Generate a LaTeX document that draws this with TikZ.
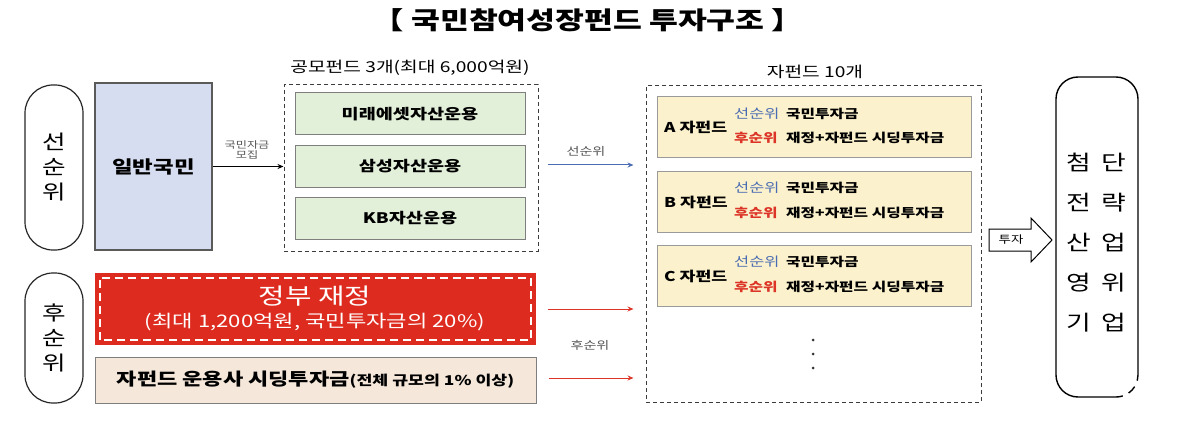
\documentclass[tikz,border=0pt]{standalone}
\usepackage{fontspec}
\setmainfont{Noto Sans CJK KR}[FakeStretch=1.28]
\usetikzlibrary{calc,arrows.meta}
\definecolor{cilban}{HTML}{D7DDF0}
\definecolor{cilbanline}{HTML}{5A5A5A}
\definecolor{cgreen}{HTML}{E2EFD9}
\definecolor{cgreenline}{HTML}{7F7F7F}
\definecolor{cred}{HTML}{DE2B1F}
\definecolor{cbeige}{HTML}{F5E7DA}
\definecolor{cyellow}{HTML}{FBF1CC}
\definecolor{cyline}{HTML}{9A9A9A}
\definecolor{cbluet}{HTML}{4A6CB3}
\definecolor{credt}{HTML}{DC3426}
\definecolor{cdash}{HTML}{3C3C3C}
\definecolor{cgrayt}{HTML}{555555}
\begin{document}
\begin{tikzpicture}[x=1pt,y=-1pt,
  pill/.style={draw=black!85, line width=1.2pt, rounded corners=28pt, inner sep=0pt, align=center, font=\fontsize{20}{25}\selectfont},
  dashbox/.style={draw=cdash, line width=1pt, dash pattern=on 4pt off 3pt, inner sep=0pt},
  greenbox/.style={draw=cgreenline, fill=cgreen, line width=1pt, minimum width=230pt, minimum height=42pt, inner sep=0pt, font=\bfseries\fontsize{14.5}{17}\selectfont},
  yellowbox/.style={draw=cyline, fill=cyellow, line width=1pt, minimum width=314pt, minimum height=61pt, inner sep=0pt},
  ytext/.style={anchor=west, inner sep=0pt, font=\bfseries\fontsize{12.3}{14}\selectfont},
  smalllabel/.style={inner sep=0pt, text=cgrayt, font=\fontsize{11}{13}\selectfont},
  blkarrow/.style={line width=1pt, -{Stealth[length=6pt,width=5pt]}},
  bluearrow/.style={draw=cbluet, line width=1pt, -{Stealth[length=6pt,width=5pt]}},
  redarrow/.style={draw=credt, line width=1pt, -{Stealth[length=6pt,width=5pt]}},
  dot/.style={circle, fill=black!80, inner sep=0pt, minimum size=3pt}
]
\useasboundingbox (0,0) rectangle (1200,425);

% title
\node[font=\bfseries\fontsize{24.5}{28}\selectfont] (title) at (588,20) {【 국민참여성장펀드 투자구조 】};

% priority pills
\node[pill, minimum width=58pt, minimum height=165pt] (pre) at (54,167.5) {선\\순\\위};
\node[pill, minimum width=58pt, minimum height=130pt] (post) at (54,338) {후\\순\\위};

% general public
\node[draw=cilbanline, fill=cilban, line width=1.2pt, minimum width=117pt, minimum height=167pt, inner sep=0pt, font=\bfseries\fontsize{17.5}{20}\selectfont] (ilban) at (153.5,166.5) {일반국민};

% public funds
\node[font=\fontsize{15}{17}\selectfont] (publ) at (410,68) {공모펀드 3개(최대 6,000억원)};
\node[dashbox, minimum width=254pt, minimum height=166pt] (pubf) at (411,168) {};
\node[greenbox] (g1) at (410,114) {미래에셋자산운용};
\node[greenbox] (g2) at (410,166.5) {삼성자산운용};
\node[greenbox] (g3) at (410,218.5) {KB자산운용};

\draw[blkarrow] (ilban.east) -- (ilban.east -| pubf.west);
\node[smalllabel, align=center, font=\fontsize{9.5}{10.5}\selectfont] (lbl1) at (247,150) {국민자금\\모집};

% government finance
\node[fill=cred, minimum width=441pt, minimum height=72pt, inner sep=0pt] (gov) at (315.5,309) {};
\draw[white, line width=1.6pt, dash pattern=on 8pt off 5pt] ($(gov.south west)+(5,-5)$) rectangle ($(gov.north east)+(-5,5)$);
\node[text=white, inner sep=0pt, font=\fontsize{22.5}{24}\selectfont] (govt1) at (315,296) {정부 재정};
\node[text=white, inner sep=0pt, font=\fontsize{17.3}{19}\selectfont] (govt2) at (315,322) {(최대 1,200억원, 국민투자금의 20\%)};

% seeding
\node[draw=cgreenline, fill=cbeige, line width=1pt, minimum width=441pt, minimum height=46pt, inner sep=0pt] (seed) at (315.5,380) {\bfseries\fontsize{17.2}{19}\selectfont 자펀드 운용사 시딩투자금{\fontsize{13.5}{14}\selectfont(전체 규모의 1\% 이상)}};

% sub funds
\node[font=\fontsize{15}{17}\selectfont] (subl) at (815,72) {자펀드 10개};
\node[dashbox, minimum width=335pt, minimum height=316pt] (subf) at (813.5,244) {};

\foreach \L/\yy/\nm in {A/127.5/fa, B/202/fb, C/276/fc}{
  \node[yellowbox] (\nm) at (814,\yy) {};
  \node[ytext, font=\bfseries\fontsize{13.5}{14}\selectfont] (\nm n) at (664,\yy) {\L\ 자펀드};
  \node[ytext, text=cbluet, font=\fontsize{12.8}{14}\selectfont] (\nm s) at (734,\yy-14) {선순위};
  \node[ytext] (\nm sa) at (786,\yy-14) {국민투자금};
  \node[ytext, text=credt] (\nm h) at (734,\yy+10.5) {후순위};
  \node[ytext] (\nm ha) at (786,\yy+10.5) {재정+자펀드 시딩투자금};
}
\node[dot] (d1) at (813,340) {};
\node[dot] (d2) at (813,354) {};
\node[dot] (d3) at (813,368) {};

% connectors to sub funds
\coordinate (ba) at ([yshift=3pt]pubf.east);
\draw[bluearrow, shorten <=9pt, shorten >=12pt] (ba) -- (ba -| subf.west);
\node[smalllabel] (lsun) at (586,151) {선순위};
\draw[redarrow, shorten <=12pt, shorten >=12pt] (gov.east) -- (gov.east -| subf.west);
\draw[redarrow, shorten <=12pt, shorten >=12pt] ([yshift=2pt]seed.east) -- ([yshift=2pt]seed.east -| subf.west);
\node[smalllabel] (lhu) at (590,345) {후순위};

% invest arrow
\draw[line width=1pt, fill=white] (989,229) -- (1031,229) -- (1031,218) -- (1052,240) -- (1031,262) -- (1031,251) -- (989,251) -- cycle;
\node[inner sep=0pt, font=\fontsize{10.5}{12}\selectfont] (tuja) at (1011,240) {투자};

% right pill with broken bottom-right corner
\draw[line width=1.4pt] (1137.25,380.7) arc[start angle=15, end angle=0, radius=22] -- (1138,99)
  arc[start angle=0, end angle=-90, radius=22] -- (1078,77)
  arc[start angle=-90, end angle=-180, radius=22] -- (1056,375)
  arc[start angle=180, end angle=90, radius=22] -- (1116,397)
  arc[start angle=90, end angle=72, radius=22];
\draw[line width=1.4pt] (1116,375) ++(55:22) arc[start angle=55, end angle=32, radius=22];

\node[inner sep=0pt, align=center, font=\fontsize{21}{40}\selectfont] (colL) at (1079,243) {첨\\전\\산\\영\\기};
\node[inner sep=0pt, align=center, font=\fontsize{21}{40}\selectfont] (colR) at (1114,243) {단\\략\\업\\위\\업};
\end{tikzpicture}
\end{document}
